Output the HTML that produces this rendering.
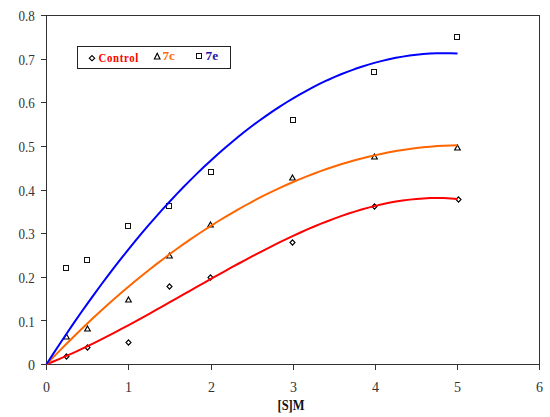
<!DOCTYPE html>
<html><head><meta charset="utf-8"><style>
html,body{margin:0;padding:0;background:#fff;width:550px;height:417px;overflow:hidden}
svg{display:block;font-family:"Liberation Serif",serif}
</style></head><body>
<svg width="550" height="417" viewBox="0 0 550 417">
<g stroke="#333" stroke-width="1" fill="none" shape-rendering="crispEdges">
<path d="M46.5,15 V365 M46,15.5 H540 M539.5,15 V365 M41,364.5 H540" />
<path d="M41,364.5 H46 M41,320.5 H46 M41,277.5 H46 M41,233.5 H46 M41,190.5 H46 M41,146.5 H46 M41,102.5 H46 M41,59.5 H46 M41,15.5 H46 M46.5,365 V370 M128.5,365 V370 M211.5,365 V370 M293.5,365 V370 M375.5,365 V370 M457.5,365 V370 M539.5,365 V370"/>
</g>
<g font-size="14" fill="#333">
<text x="35.0" y="370.1" text-anchor="end">0</text>
<text x="18.5" y="326.5" textLength="16.3" lengthAdjust="spacingAndGlyphs">0.1</text>
<text x="18.5" y="282.9" textLength="16.3" lengthAdjust="spacingAndGlyphs">0.2</text>
<text x="18.5" y="239.2" textLength="16.3" lengthAdjust="spacingAndGlyphs">0.3</text>
<text x="18.5" y="195.6" textLength="16.3" lengthAdjust="spacingAndGlyphs">0.4</text>
<text x="18.5" y="152.0" textLength="16.3" lengthAdjust="spacingAndGlyphs">0.5</text>
<text x="18.5" y="108.3" textLength="16.3" lengthAdjust="spacingAndGlyphs">0.6</text>
<text x="18.5" y="64.7" textLength="16.3" lengthAdjust="spacingAndGlyphs">0.7</text>
<text x="18.5" y="21.1" textLength="16.3" lengthAdjust="spacingAndGlyphs">0.8</text>
<text x="46.5" y="392.3" text-anchor="middle">0</text>
<text x="128.5" y="392.3" text-anchor="middle">1</text>
<text x="211.5" y="392.3" text-anchor="middle">2</text>
<text x="293.5" y="392.3" text-anchor="middle">3</text>
<text x="375.5" y="392.3" text-anchor="middle">4</text>
<text x="457.5" y="392.3" text-anchor="middle">5</text>
<text x="539.5" y="392.3" text-anchor="middle">6</text>
</g>
<text x="277.5" y="409.5" font-size="14" font-weight="bold" fill="#111" textLength="27" lengthAdjust="spacingAndGlyphs">[S]M</text>
<g stroke="#000" stroke-width="1.15" fill="none">
<path d="M66.5,353.9 L69.0,356.5 L66.5,359.1 L64.0,356.5 Z"/>
<path d="M87.5,344.9 L90.0,347.5 L87.5,350.1 L85.0,347.5 Z"/>
<path d="M128.5,339.9 L131.0,342.5 L128.5,345.1 L126.0,342.5 Z"/>
<path d="M169.5,283.9 L172.0,286.5 L169.5,289.1 L167.0,286.5 Z"/>
<path d="M210.5,274.9 L213.0,277.5 L210.5,280.1 L208.0,277.5 Z"/>
<path d="M292.5,239.9 L295.0,242.5 L292.5,245.1 L290.0,242.5 Z"/>
<path d="M374.5,203.9 L377.0,206.5 L374.5,209.1 L372.0,206.5 Z"/>
<path d="M458.5,196.9 L461.0,199.5 L458.5,202.1 L456.0,199.5 Z"/>
<path d="M66.5,334 L69.3,339 L63.7,339 Z"/>
<path d="M87.5,326 L90.3,331 L84.7,331 Z"/>
<path d="M128.5,297 L131.3,302 L125.7,302 Z"/>
<path d="M169.5,253 L172.3,258 L166.7,258 Z"/>
<path d="M210.5,222 L213.3,227 L207.7,227 Z"/>
<path d="M292.5,175 L295.3,180 L289.7,180 Z"/>
<path d="M374.5,154 L377.3,159 L371.7,159 Z"/>
<path d="M457.5,145 L460.3,150 L454.7,150 Z"/>
</g>
<g stroke="#111" stroke-width="1" fill="none" shape-rendering="crispEdges">
<rect x="63.5" y="265.5" width="5" height="5"/>
<rect x="84.5" y="257.5" width="5" height="5"/>
<rect x="125.5" y="223.5" width="5" height="5"/>
<rect x="166.5" y="203.5" width="5" height="5"/>
<rect x="208.5" y="169.5" width="5" height="5"/>
<rect x="290.5" y="117.5" width="5" height="5"/>
<rect x="371.5" y="69.5" width="5" height="5"/>
<rect x="454.5" y="34.5" width="5" height="5"/>
</g>
<polyline points="46.50,364.20 53.35,361.45 60.20,358.59 67.05,355.62 73.90,352.55 80.75,349.38 87.60,346.13 94.45,342.79 101.30,339.37 108.15,335.89 115.00,332.33 121.85,328.72 128.70,325.06 135.55,321.34 142.40,317.58 149.25,313.79 156.10,309.96 162.95,306.11 169.80,302.24 176.65,298.36 183.50,294.47 190.35,290.57 197.20,286.68 204.05,282.80 210.90,278.94 217.75,275.09 224.60,271.28 231.45,267.49 238.30,263.75 245.15,260.05 252.00,256.39 258.85,252.80 265.70,249.27 272.55,245.80 279.40,242.41 286.25,239.10 293.10,235.87 299.95,232.73 306.80,229.69 313.65,226.75 320.50,223.92 327.35,221.21 334.20,218.61 341.05,216.14 347.90,213.80 354.75,211.60 361.60,209.54 368.45,207.63 375.30,205.88 382.15,204.28 389.00,202.85 395.85,201.60 402.70,200.52 409.55,199.62 416.40,198.92 423.25,198.41 430.10,198.10 436.95,197.99 443.80,198.10 450.65,198.43 457.50,198.98" fill="none" stroke="#ff0000" stroke-width="2" stroke-linejoin="round"/>
<polyline points="46.50,364.20 53.35,357.08 60.20,350.08 67.05,343.20 73.90,336.43 80.75,329.78 87.60,323.25 94.45,316.84 101.30,310.54 108.15,304.36 115.00,298.30 121.85,292.36 128.70,286.54 135.55,280.83 142.40,275.24 149.25,269.77 156.10,264.41 162.95,259.17 169.80,254.05 176.65,249.05 183.50,244.17 190.35,239.40 197.20,234.75 204.05,230.22 210.90,225.80 217.75,221.51 224.60,217.33 231.45,213.27 238.30,209.32 245.15,205.50 252.00,201.79 258.85,198.20 265.70,194.73 272.55,191.37 279.40,188.13 286.25,185.01 293.10,182.01 299.95,179.12 306.80,176.36 313.65,173.71 320.50,171.17 327.35,168.76 334.20,166.46 341.05,164.28 347.90,162.22 354.75,160.27 361.60,158.45 368.45,156.74 375.30,155.15 382.15,153.67 389.00,152.32 395.85,151.08 402.70,149.96 409.55,148.95 416.40,148.07 423.25,147.30 430.10,146.65 436.95,146.11 443.80,145.70 450.65,145.40 457.50,145.22" fill="none" stroke="#ff6600" stroke-width="2" stroke-linejoin="round"/>
<polyline points="46.50,364.20 53.35,353.60 60.20,343.18 67.05,332.94 73.90,322.89 80.75,313.02 87.60,303.33 94.45,293.83 101.30,284.51 108.15,275.38 115.00,266.43 121.85,257.67 128.70,249.09 135.55,240.69 142.40,232.47 149.25,224.44 156.10,216.60 162.95,208.94 169.80,201.46 176.65,194.16 183.50,187.05 190.35,180.13 197.20,173.39 204.05,166.83 210.90,160.45 217.75,154.26 224.60,148.26 231.45,142.43 238.30,136.79 245.15,131.34 252.00,126.07 258.85,120.98 265.70,116.08 272.55,111.36 279.40,106.82 286.25,102.47 293.10,98.30 299.95,94.32 306.80,90.52 313.65,86.90 320.50,83.47 327.35,80.22 334.20,77.16 341.05,74.28 347.90,71.58 354.75,69.07 361.60,66.74 368.45,64.59 375.30,62.63 382.15,60.86 389.00,59.26 395.85,57.85 402.70,56.63 409.55,55.59 416.40,54.73 423.25,54.06 430.10,53.57 436.95,53.26 443.80,53.14 450.65,53.20 457.50,53.45" fill="none" stroke="#0000ff" stroke-width="2" stroke-linejoin="round"/>
<rect x="77.5" y="46.5" width="153" height="22" fill="#fff" stroke="#222" stroke-width="1" shape-rendering="crispEdges"/>
<g stroke="#111" stroke-width="1" fill="none" shape-rendering="crispEdges">


<rect x="196.5" y="53.5" width="5" height="5"/>
</g>
<g stroke="#000" stroke-width="1.15" fill="none">
<path d="M92,55.6 L94.7,58.2 L92,60.8 L89.3,58.2 Z"/>
<path d="M157.2,53.3 L160,59 L154.4,59 Z"/>
</g>
<g font-size="14" font-weight="bold">
<g transform="translate(98.6,61.9) scale(0.8,1)"><text font-size="13.5" fill="#ff0000" letter-spacing="0.8">Control</text></g>
<text x="162.5" y="60" font-size="13.5" fill="#ff6a00" textLength="12.4" lengthAdjust="spacingAndGlyphs">7c</text>
<text x="205.5" y="60" font-size="13.5" fill="#1a12a8" textLength="12.6" lengthAdjust="spacingAndGlyphs">7e</text>
</g>
</svg>
</body></html>
